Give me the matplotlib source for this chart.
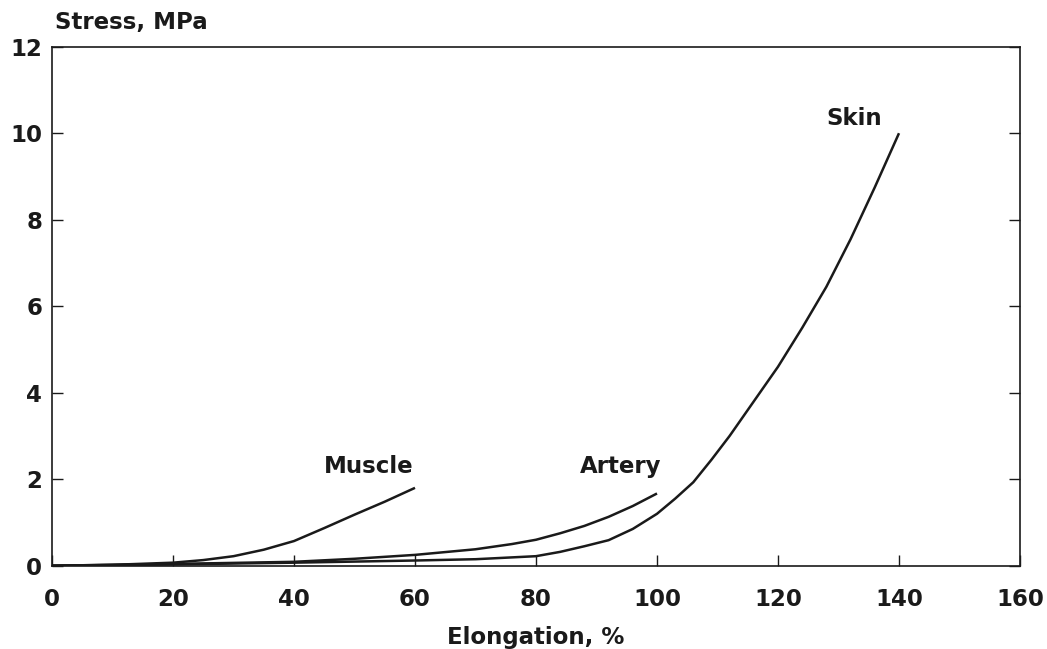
import matplotlib
matplotlib.use("Agg")
import matplotlib.pyplot as plt

# Data
muscle_x = [0, 10, 20, 25, 30, 35, 40, 45, 50, 55, 60]
muscle_y = [0, 0.02, 0.07, 0.13, 0.22, 0.37, 0.57, 0.87, 1.18, 1.48, 1.8]

artery_x = [0, 20, 40, 50, 60, 70, 76, 80, 84, 88, 92, 96, 100]
artery_y = [0, 0.04, 0.09, 0.16, 0.25, 0.38, 0.5, 0.6, 0.75, 0.92, 1.13, 1.38, 1.67]

skin_x = [0, 20, 40, 60, 70, 80, 84, 88, 92, 96, 100, 103, 106, 109, 112,
          116, 120, 124, 128, 132, 136, 140]
skin_y = [0, 0.03, 0.07, 0.12, 0.15, 0.22, 0.32, 0.45, 0.59, 0.85, 1.2, 1.55,
          1.93, 2.45, 3.0, 3.8, 4.6, 5.5, 6.45, 7.55, 8.75, 10.0]

x_ticks = [0, 20, 40, 60, 80, 100, 120, 140, 160]
y_ticks = [0, 2, 4, 6, 8, 10, 12]

labels = ["Muscle", "Artery", "Skin"]
label_pos = [(52.3, 2.3), (94.0, 2.3), (132.6, 10.35)]

plt.rcParams['font.family'] = ['DejaVu Sans']
plt.rcParams['font.weight'] = 'bold'
ink = '#1a1a1a'
fs = 16.5

fig = plt.figure(figsize=(10.47, 6.49), dpi=100)
ax = fig.add_axes([52/1047, 1-565.7/649, (1020-52)/1047, (565.7-46.7)/649])

for xs, ys in [(muscle_x, muscle_y), (artery_x, artery_y), (skin_x, skin_y)]:
    ax.plot(xs, ys, color=ink, lw=1.8, solid_capstyle='butt', solid_joinstyle='round')

for lab, (lx, ly) in zip(labels, label_pos):
    ax.text(lx, ly, lab, ha='center', va='center', fontsize=fs, color=ink, fontweight='bold')

ax.set_xlim(0, 160)
ax.set_ylim(0, 12)
ax.set_xticks(x_ticks)
ax.set_yticks(y_ticks)
ax.tick_params(axis='x', direction='in', length=8, width=1.0, pad=16, labelsize=fs, colors=ink)
ax.tick_params(axis='y', direction='in', length=8, width=1.0, pad=7, labelsize=fs, colors=ink,
               right=True)
for s in ax.spines.values():
    s.set_linewidth(1.2)
    s.set_color(ink)

ax.set_xlabel("Elongation, %", fontsize=fs, color=ink, labelpad=11, fontweight='bold')
fig.text(55/1047, 1-22/649, "Stress, MPa", fontsize=fs, color=ink, ha='left', va='center',
         fontweight='bold')

fig.savefig("out.png", dpi=100, facecolor='white')
